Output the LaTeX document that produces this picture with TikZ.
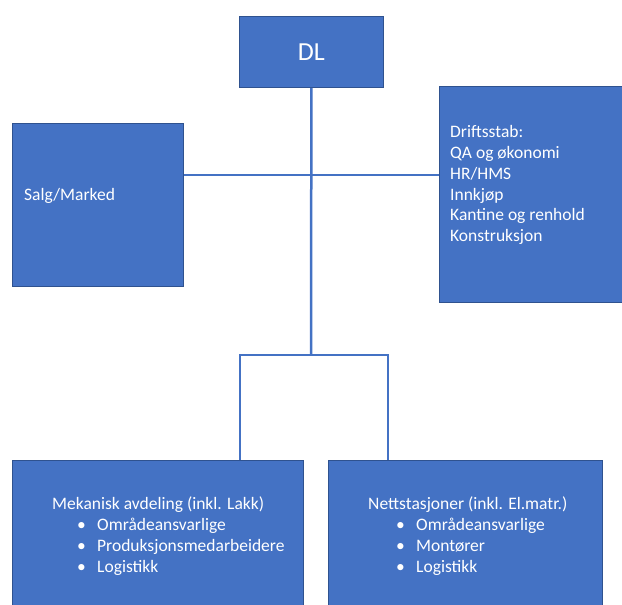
\documentclass[tikz,border=0pt]{standalone}
\usepackage{fontspec}
\setmainfont{Carlito}
\definecolor{boxblue}{HTML}{4472C4}
\definecolor{edgeblue}{HTML}{2F528F}
\begin{document}
\begin{tikzpicture}[x=1pt,y=-1pt,
  orgbox/.style={draw=edgeblue,line width=0.8pt,fill=boxblue,anchor=north west,inner sep=0pt},
  txt/.style={text=white,anchor=base west,inner sep=0pt,font=\fontsize{17.5}{20.9}\selectfont},
  conn/.style={draw=boxblue,line width=2.5pt}]
\useasboundingbox (0,0) rectangle (622,605);
% boxes
\node[orgbox,minimum width=144pt,minimum height=71pt] (dl) at (239,16) {};
\node[orgbox,minimum width=171pt,minimum height=163pt] (salg) at (12,123) {};
\node[orgbox,minimum width=184pt,minimum height=216pt] (drift) at (439,86) {};
\node[orgbox,minimum width=291pt,minimum height=150pt] (mek) at (12,460) {};
\node[orgbox,minimum width=274pt,minimum height=150pt] (nett) at (328,460) {};
% connectors
\coordinate (hy) at (311,175);
\coordinate (jc) at (311,355);
\coordinate (jl) at (240,355);
\coordinate (jr) at (388,355);
\draw[conn] (salg.east |- hy) -- (drift.west |- hy);
\draw[conn] (dl.south) -- (jc);
\draw[conn] (mek.north -| jl) -- (jl) -- (jr) -- (mek.north -| jr);
% texts
\node[text=white,inner sep=0pt,font=\fontsize{26}{30}\selectfont] (dlt) at (dl.center) {DL};
\node[txt] (salgt) at (24,200) {Salg/Marked};
\node[txt] (d1) at (450,137.3) {Driftsstab:};
\node[txt] (d2) at (450,158.2) {QA og økonomi};
\node[txt] (d3) at (450,179.1) {HR/HMS};
\node[txt] (d4) at (450,200) {Innkjøp};
\node[txt] (d5) at (450,220.9) {Kantine og renhold};
\node[txt] (d6) at (450,241.8) {Konstruksjon};
\node[txt] (mekt) at (52,509) {Mekanisk avdeling (inkl. Lakk)};
\node[txt] (mb1) at (77,530) {•};
\node[txt] (m1) at (97,530) {Områdeansvarlige};
\node[txt] (mb2) at (77,551) {•};
\node[txt] (m2) at (97,551) {Produksjonsmedarbeidere};
\node[txt] (mb3) at (77,572) {•};
\node[txt] (m3) at (97,572) {Logistikk};
\node[txt] (nettt) at (368,509) {Nettstasjoner (inkl. El.matr.)};
\node[txt] (nb1) at (396,530) {•};
\node[txt] (n1) at (416,530) {Områdeansvarlige};
\node[txt] (nb2) at (396,551) {•};
\node[txt] (n2) at (416,551) {Montører};
\node[txt] (nb3) at (396,572) {•};
\node[txt] (n3) at (416,572) {Logistikk};
\end{tikzpicture}
\end{document}
